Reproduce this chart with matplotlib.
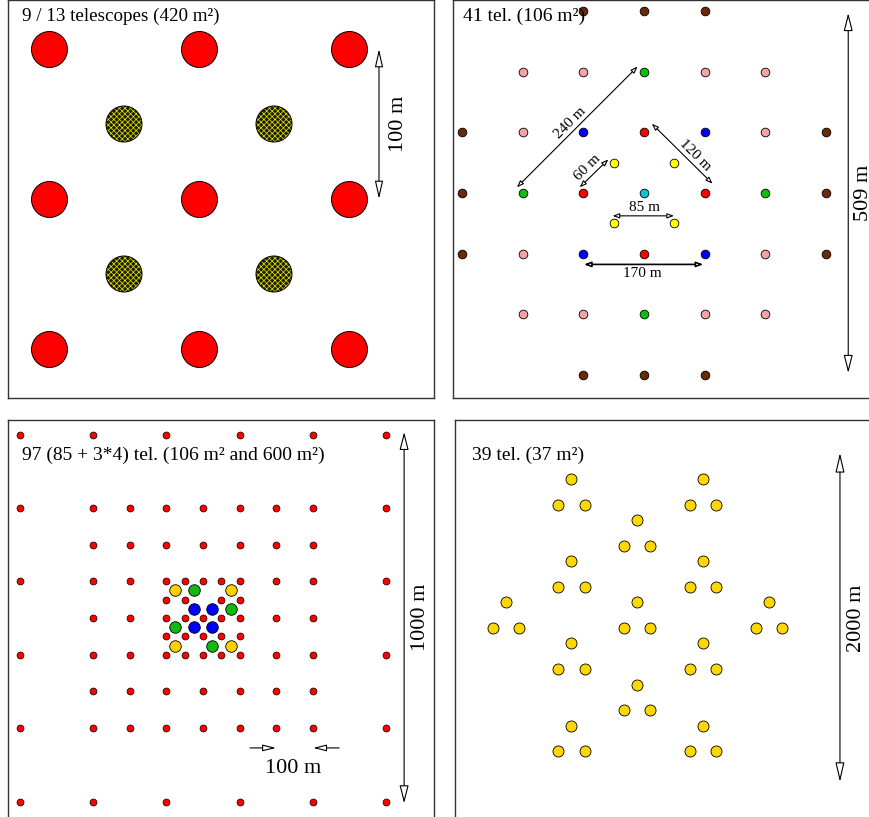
import matplotlib
matplotlib.use("Agg")
import matplotlib.pyplot as plt
from matplotlib.patches import FancyArrowPatch

plt.rcParams['font.family'] = ['Liberation Serif', 'DejaVu Serif']

# ---- panel 1: 9 / 13 telescopes, positions in m
big_x = [-100, 0, 100, -100, 0, 100, -100, 0, 100]
big_y = [100, 100, 100, 0, 0, 0, -100, -100, -100]
mid_x = [-50, 50, -50, 50]
mid_y = [50, 50, -50, -50]

# ---- panel 2: 41 telescopes, grid index (spacing 85 m)
p2_spacing = 85
p2_groups = {
    'brown': [(-1, 3), (0, 3), (1, 3), (-3, 1), (3, 1), (-3, 0), (3, 0),
              (-3, -1), (3, -1), (-1, -3), (0, -3), (1, -3)],
    'pink': [(-2, 2), (-1, 2), (1, 2), (2, 2), (-2, 1), (2, 1),
             (-2, -1), (2, -1), (-2, -2), (-1, -2), (1, -2), (2, -2)],
    'green': [(0, 2), (-2, 0), (2, 0), (0, -2)],
    'blue': [(-1, 1), (1, 1), (-1, -1), (1, -1)],
    'red': [(0, 1), (-1, 0), (1, 0), (0, -1)],
    'cyan': [(0, 0)],
    'yellow': [(-0.5, 0.5), (0.5, 0.5), (-0.5, -0.5), (0.5, -0.5)],
}
p2_colors = {'brown': '#6b2a05', 'pink': '#f4a3a3', 'green': '#0cbf0c',
             'blue': '#0000ff', 'red': '#ff0000', 'cyan': '#10c4cc',
             'yellow': '#ffff00'}

# ---- panel 3: 97 telescopes, positions in units of 100 m
p3_rows = {
    5: [-5, -3, -1, 1, 3, 5],
    3: [-5, -3, -2, -1, 0, 1, 2, 3, 5],
    2: [-3, -2, -1, 0, 1, 2, 3],
    1: [-5, -3, -2, -1, -0.5, 0, 0.5, 1, 2, 3, 5],
    0.5: [-1, -0.5, 0.5, 1],
    0: [-3, -2, -1, -0.5, 0, 0.5, 1, 2, 3],
    -0.5: [-1, -0.5, 0, 0.5, 1],
    -1: [-5, -3, -2, -1, -0.5, 0, 0.5, 1, 2, 3, 5],
    -2: [-3, -2, -1, 0, 1, 2, 3],
    -3: [-5, -3, -2, -1, 0, 1, 2, 3, 5],
    -5: [-5, -3, -1, 1, 3, 5],
}
p3_large = {
    '#ffd000': [(-0.75, 0.75), (0.75, 0.75), (-0.75, -0.75), (0.75, -0.75)],
    '#10b810': [(-0.25, 0.75), (0.75, 0.25), (-0.75, -0.25), (0.25, -0.75)],
    '#0000ff': [(-0.25, 0.25), (0.25, 0.25), (-0.25, -0.25), (0.25, -0.25)],
}

# ---- panel 4: 39 telescopes in 13 triangles, apex positions in m
tri_x = [-400, 400, 0, -400, 400, -800, 0, 800, -400, 400, 0, -400, 400]
tri_y = [750, 750, 500, 250, 250, 0, 0, 0, -250, -250, -500, -750, -750]
tri_dx = [0, -80, 80]
tri_dy = [0, -156, -156]

W, H = 870, 817
fig = plt.figure(figsize=(W / 100, H / 100), dpi=100)


def panel(left, top, w, h, cx, cy, scale):
    # pixel box -> axes whose data units keep a fixed px/unit scale
    ax = fig.add_axes([left / W, 1 - (top + h) / H, w / W, h / H])
    ax.set_xlim((left - cx) / scale, (left + w - cx) / scale)
    ax.set_ylim((cy - top - h) / scale, (cy - top) / scale)
    ax.set_xticks([])
    ax.set_yticks([])
    for s in ax.spines.values():
        s.set_color('#333333')
        s.set_linewidth(1.0)
    return ax


def arrow(ax, p0, p1, style, hl, hw, lw=0.8):
    a = FancyArrowPatch(p0, p1, arrowstyle=f'{style},head_length={hl},head_width={hw}',
                        mutation_scale=1, fc='white', ec='black', lw=lw,
                        shrinkA=0, shrinkB=0, zorder=5)
    ax.add_patch(a)


# panel 1
ax1 = panel(8, 0, 426, 398, 199, 199, 1.5)
ax1.scatter(big_x, big_y, s=672, c='#ff0000', edgecolors='black', linewidths=0.7, zorder=3)
plt.rcParams['hatch.linewidth'] = 0.5
ax1.scatter(mid_x, mid_y, s=672, c='#1c1c00', edgecolors='#e8e800', linewidths=0,
            hatch='xxxxxx', zorder=3)
ax1.scatter(mid_x, mid_y, s=672, facecolors='none', edgecolors='black', linewidths=0.7, zorder=4)
arrow(ax1, (120, 100), (120, 0), '<|-|>', 11, 2.5)
ax1.text(133, 50, '100 m', rotation=90, ha='center', va='center', fontsize=16)
ax1.text(0.033, 0.96, '9 / 13 telescopes (420 m²)', transform=ax1.transAxes,
         ha='left', va='center', fontsize=13.7)

# panel 2
ax2 = panel(453, 0, 426, 398, 644, 193, 60.7 / 85)
for name, pts in p2_groups.items():
    xs = [p[0] * p2_spacing for p in pts]
    ys = [p[1] * p2_spacing for p in pts]
    ax2.scatter(xs, ys, s=39, c=p2_colors[name], edgecolors='black', linewidths=0.6, zorder=3)
arrow(ax2, (-178, 8), (-9, 177), '<|-|>', 4, 1.5)
arrow(ax2, (-90, 8), (-50, 47), '<|-|>', 4, 1.5)
arrow(ax2, (11, 97), (96, 13), '<|-|>', 4, 1.5)
arrow(ax2, (-44, -32), (42, -32), '<|-|>', 4, 1.5)
arrow(ax2, (-84, -100), (83, -100), '<|-|>', 4, 1.5, lw=1.2)
arrow(ax2, (286, 252), (286, -252), '<|-|>', 11, 2.8)
ax2.text(-104, 98, '240 m', rotation=45, ha='center', va='center', fontsize=11)
ax2.text(-79, 36, '60 m', rotation=45, ha='center', va='center', fontsize=11)
ax2.text(71, 53, '120 m', rotation=-45, ha='center', va='center', fontsize=11)
ax2.text(1, -21, '85 m', ha='center', va='center', fontsize=11)
ax2.text(-3, -113, '170 m', ha='center', va='center', fontsize=11)
ax2.text(307, 0, '509 m', rotation=90, ha='center', va='center', fontsize=16)
ax2.text(0.023, 0.96, '41 tel. (106 m²)', transform=ax2.transAxes,
         ha='left', va='center', fontsize=14, zorder=6)

# panel 3
ax3 = panel(8, 420, 426, 406, 203, 618, 0.367)
rx = [x * 100 for row, cols in p3_rows.items() for x in cols]
ry = [row * 100 for row, cols in p3_rows.items() for x in cols]
ax3.scatter(rx, ry, s=25, c='#ff0000', edgecolors='black', linewidths=0.5, zorder=3)
for col, pts in p3_large.items():
    ax3.scatter([p[0] * 100 for p in pts], [p[1] * 100 for p in pts], s=69, c=col,
                edgecolors='black', linewidths=0.6, zorder=4)
arrow(ax3, (548, 507), (548, -505), '<|-|>', 11, 2.8)
ax3.text(594, 3, '1000 m', rotation=90, ha='center', va='center', fontsize=16)
arrow(ax3, (128, -354), (199, -354), '-|>', 8, 2)
arrow(ax3, (371, -354), (300, -354), '-|>', 8, 2)
ax3.text(245, -409, '100 m', ha='center', va='center', fontsize=16)
ax3.text(0.033, 0.914, '97 (85 + 3*4) tel. (106 m² and 600 m²)', transform=ax3.transAxes,
         ha='left', va='center', fontsize=14)

# panel 4
ax4 = panel(455, 420, 426, 406, 637.3, 602.3, 0.1645)
px = [x + d for x in tri_x for d in tri_dx]
py = [y + d for y in tri_y for d in tri_dy]
ax4.scatter(px, py, s=63, c='#ffd700', edgecolors='black', linewidths=0.6, zorder=3)
arrow(ax4, (1232, 908), (1232, -1092), '<|-|>', 12, 2.8)
ax4.text(1335, -95, '2000 m', rotation=90, ha='center', va='center', fontsize=16)
ax4.text(0.04, 0.914, '39 tel. (37 m²)', transform=ax4.transAxes,
         ha='left', va='center', fontsize=14)

fig.savefig('out.png', dpi=100)
